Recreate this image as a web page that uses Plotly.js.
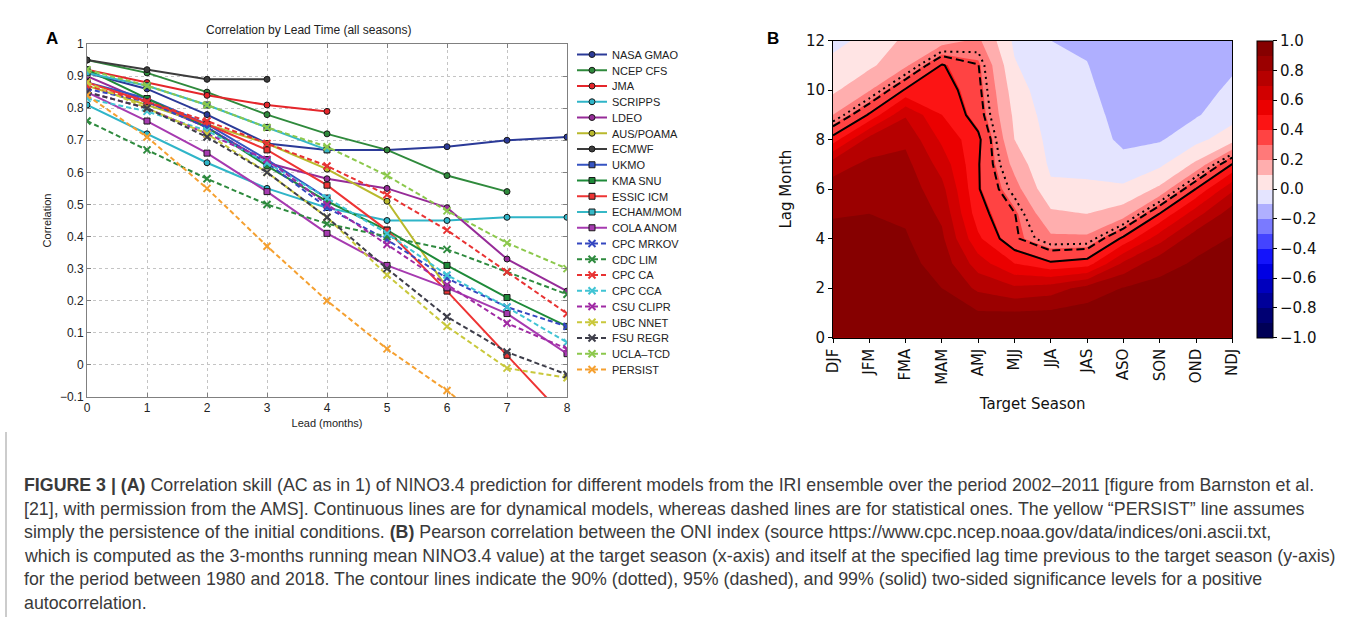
<!DOCTYPE html>
<html><head><meta charset="utf-8">
<script src="https://cdn.plot.ly/plotly-3.0.1.min.js"></script>
<style>html,body{margin:0;padding:0;background:#fff;}#chart{width:1355px;height:617px;}</style>
</head><body><div id="chart"></div>
<script>
// ---------- Panel A data ----------
const leads = [0, 1, 2, 3, 4, 5, 6, 7, 8];
const modelNames = ["NASA GMAO","NCEP CFS","JMA","SCRIPPS","LDEO","AUS/POAMA","ECMWF","UKMO","KMA SNU","ESSIC ICM","ECHAM/MOM","COLA ANOM","CPC MRKOV","CDC LIM","CPC CA","CPC CCA","CSU CLIPR","UBC NNET","FSU REGR","UCLA\u2013TCD","PERSIST"];
const nasaGmao = [0.91, 0.86, 0.78, 0.69, 0.67, 0.67, 0.68, 0.70, 0.71];
const ncepCfs  = [0.95, 0.91, 0.85, 0.78, 0.72, 0.67, 0.59, 0.54];
const jma      = [0.92, 0.88, 0.84, 0.81, 0.79];
const scripps  = [0.81, 0.72, 0.63, 0.55, 0.49, 0.45, 0.45, 0.46, 0.46];
const ldeo     = [0.90, 0.82, 0.74, 0.63, 0.58, 0.55, 0.49, 0.33, 0.23];
const ausPoama = [0.87, 0.81, 0.75, 0.69, 0.61, 0.51, 0.24];
const ecmwf    = [0.95, 0.92, 0.89, 0.89];
const ukmo     = [0.88, 0.83, 0.75, 0.64, 0.52];
const kmaSnu   = [0.92, 0.83, 0.74, 0.62, 0.51, 0.42, 0.31, 0.21, 0.12];
const essicIcm = [0.88, 0.82, 0.75, 0.67, 0.56, 0.42, 0.23, 0.03, -0.17];
const echamMom = [0.91, 0.87, 0.81, 0.74, 0.67];
const colaAnom = [0.85, 0.76, 0.66, 0.54, 0.41, 0.31, 0.24, 0.16, 0.035];
const cpcMrkov = [0.86, 0.82, 0.74, 0.63, 0.49, 0.39, 0.27, 0.18, 0.12];
const cdcLim   = [0.76, 0.67, 0.58, 0.50, 0.44, 0.40, 0.36, 0.29, 0.22];
const cpcCa    = [0.87, 0.82, 0.76, 0.69, 0.62, 0.53, 0.42, 0.29, 0.16];
const cpcCca   = [0.83, 0.79, 0.73, 0.63, 0.52, 0.41, 0.28, 0.18, 0.07];
const csuClipr = [0.85, 0.80, 0.72, 0.64, 0.50, 0.375, 0.25, 0.13, 0.05];
const ubcNnet  = [0.88, 0.80, 0.72, 0.60, 0.46, 0.28, 0.12, -0.01, -0.04];
const fsuRegr  = [0.85, 0.80, 0.71, 0.60, 0.46, 0.30, 0.15, 0.04, -0.03];
const uclaTcd  = [0.92, 0.87, 0.81, 0.74, 0.68, 0.59, 0.48, 0.38, 0.30];
const persist  = [0.84, 0.71, 0.55, 0.37, 0.20, 0.05, -0.08, -0.23];
const seriesValues = [nasaGmao,ncepCfs,jma,scripps,ldeo,ausPoama,ecmwf,ukmo,kmaSnu,essicIcm,echamMom,colaAnom,cpcMrkov,cdcLim,cpcCa,cpcCca,csuClipr,ubcNnet,fsuRegr,uclaTcd,persist];

// ---------- Panel B data ----------
const seasons = ["DJF","JFM","FMA","MAM","AMJ","MJJ","JJA","JAS","ASO","SON","OND","NDJ"];
const lagMonths = [0,1,2,3,4,5,6,7,8,9,10,11,12];
// correlation profile (lag 0..12) for each target season
const corrDJF = [1, 0.98, 0.96, 0.94, 0.92, 0.895, 0.84, 0.76, 0.45, 0.20, 0.08, 0.03, -0.03];
const corrJFM = [1, 0.98, 0.96, 0.94, 0.925, 0.90, 0.87, 0.82, 0.74, 0.42, 0.19, 0.08, 0.03];
const corrFMA = [1, 0.98, 0.95, 0.93, 0.91, 0.885, 0.86, 0.83, 0.78, 0.69, 0.42, 0.18, 0.12];
const corrMAM = [1, 0.96, 0.90, 0.86, 0.82, 0.78, 0.73, 0.66, 0.58, 0.50, 0.46, 0.415, 0.15];
const corrAMJ = [1, 0.91, 0.78, 0.65, 0.52, 0.446, 0.415, 0.415, 0.43, 0.36, 0.34, 0.32, 0.22];
const corrMJJ = [1, 0.91, 0.72, 0.50, 0.33, 0.32, 0.24, 0.17, 0.10, 0.08, 0.05, 0.01, -0.02];
const corrJJA = [1, 0.92, 0.75, 0.42, 0.22, 0.12, 0.02, -0.02, -0.03, -0.05, -0.07, -0.09, -0.10];
const corrJAS = [1, 0.94, 0.84, 0.45, 0.22, 0.10, 0.02, -0.03, -0.05, -0.07, -0.085, -0.098, -0.11];
const corrASO = [1, 0.95, 0.905, 0.72, 0.43, 0.15, 0.02, -0.07, -0.12, -0.13, -0.14, -0.14, -0.14];
const corrSON = [1, 0.96, 0.925, 0.87, 0.66, 0.412, 0.12, -0.02, -0.11, -0.14, -0.15, -0.15, -0.15];
const corrOND = [1, 0.97, 0.94, 0.91, 0.87, 0.66, 0.412, 0.12, -0.03, -0.11, -0.14, -0.15, -0.15];
const corrNDJ = [1, 0.98, 0.95, 0.93, 0.905, 0.86, 0.68, 0.412, 0.06, -0.04, -0.08, -0.115, -0.13];
const seasonProfiles = [corrDJF,corrJFM,corrFMA,corrMAM,corrAMJ,corrMJJ,corrJJA,corrJAS,corrASO,corrSON,corrOND,corrNDJ];
const nYears = 39;                       // 1980-2018
const tCritical = [1.687, 2.026, 2.715]; // two-sided 90%, 95%, 99%, df = 37
const colorbarTicks = [-1, -0.8, -0.6, -0.4, -0.2, 0, 0.2, 0.4, 0.6, 0.8, 1.0];

// ---------- styling ----------
const colors = ["#2b3a98","#2f8a3c","#e5262b","#2fb5c8","#962b98","#b9b92c","#3c3c3c","#3553c2","#1e8a39","#ee3434","#36b8c6","#a63ab0",
                "#3547c0","#2e8a3e","#e83232","#40c4d4","#a02aa4","#c9c83c","#3e3e4a","#8cc84c","#f5a030"];
const symbols = ["circle","circle","circle","circle","circle","circle","circle","square","square","square","square","square"];

const traces = [];
seriesValues.forEach((vals, i) => {
  const stat = i >= 12;
  traces.push({
    type: "scatter", mode: "lines+markers", name: modelNames[i],
    x: leads.slice(0, vals.length), y: vals, xaxis: "x", yaxis: "y",
    line: {color: colors[i], width: 2, dash: stat ? "5px,3px" : "solid"},
    marker: stat ? {symbol: "x-thin-open", size: 7, color: colors[i], line: {color: colors[i], width: 2}}
                 : {symbol: symbols[i], size: 6, color: colors[i], line: {color: "#1a1a1a", width: 1}},
    hoverinfo: "skip"
  });
});

// correlation grid z[lag][season]
const corrGrid = lagMonths.map((L, li) => seasonProfiles.map(p => p[li]));
const seasonIdx = seasons.map((s, i) => i);

function seismic(t) {
  const st = [[0,[0,0,0.3]],[0.25,[0,0,1]],[0.5,[1,1,1]],[0.75,[1,0,0]],[1,[0.5,0,0]]];
  t = Math.max(0, Math.min(1, t));
  for (let i = 0; i < st.length - 1; i++) {
    const a = st[i][0], b = st[i+1][0];
    if (t <= b) {
      const f = (t - a) / (b - a);
      const c = st[i][1].map((v, k) => Math.round(255 * (v + (st[i+1][1][k] - v) * f)));
      return "rgb(" + c.join(",") + ")";
    }
  }
}
const cStart = -1, cEnd = 1, cSize = 0.1;
const nBands = Math.round((cEnd - cStart) / cSize) + 1;
const colorscale = [];
for (let k = 0; k <= nBands; k++) {
  const v = cStart - cSize / 2 + k * cSize;
  colorscale.push([k / nBands, seismic((v + 1) / 2)]);
}

traces.push({
  type: "contour", x: seasonIdx, y: lagMonths, z: corrGrid, xaxis: "x2", yaxis: "y2",
  autocontour: false, contours: {start: cStart, end: cEnd, size: cSize, coloring: "fill", showlines: false},
  line: {width: 0, smoothing: 0}, colorscale: colorscale, zmin: -1, zmax: 1,
  showlegend: false, hoverinfo: "skip",
  colorbar: {x: 1256.7/1355, xanchor: "left", xpad: 0, y: 1 - 189.1/617, yanchor: "middle", ypad: 0,
             len: 297.2/617, lenmode: "fraction", thickness: 16, thicknessmode: "pixels",
             outlinecolor: "#000", outlinewidth: 1, tickvals: colorbarTicks, tickformat: ".1f",
             ticks: "outside", ticklen: 4, tickcolor: "#000", tickwidth: 1,
             tickfont: {family: "DejaVu Sans", size: 15, color: "#111"}}
});
const sigDash = ["2px,4px", "8px,4px", "solid"];
tCritical.forEach((t, i) => {
  const r = t / Math.sqrt(t * t + nYears - 2);
  traces.push({
    type: "contour", x: seasonIdx, y: lagMonths, z: corrGrid, xaxis: "x2", yaxis: "y2",
    autocontour: false, contours: {start: r, end: r, size: 0.1, coloring: "none", showlabels: false},
    line: {color: "#000", width: 2, dash: sigDash[i], smoothing: 0},
    showscale: false, showlegend: false, hoverinfo: "skip"
  });
});

const fA = {family: "Liberation Sans, Arial, sans-serif", size: 12, color: "#222"};
const fB = {family: "DejaVu Sans", size: 15, color: "#111"};
const W = 1355, H = 617;
const capFont = {family: "Liberation Sans, Arial, sans-serif", size: 17.8, color: "#3a3a3a"};
const captionLines = [
  "<b>FIGURE 3 | (A)</b> Correlation skill (AC as in 1) of NINO3.4 prediction for different models from the IRI ensemble over the period 2002\u20132011 [figure from Barnston et al.",
  "[21], with permission from the AMS]. Continuous lines are for dynamical models, whereas dashed lines are for statistical ones. The yellow \u201cPERSIST\u201d line assumes",
  "simply the persistence of the initial conditions. <b>(B)</b> Pearson correlation between the ONI index (source https://www.cpc.ncep.noaa.gov/data/indices/oni.ascii.txt,",
  "which is computed as the 3-months running mean NINO3.4 value) at the target season (x-axis) and itself at the specified lag time previous to the target season (y-axis)",
  "for the period between 1980 and 2018. The contour lines indicate the 90% (dotted), 95% (dashed), and 99% (solid) two-sided significance levels for a positive",
  "autocorrelation."
];
const annotations = captionLines.map((t, i) => ({
  text: t, xref: "paper", yref: "paper", x: 22 / W, y: 1 - (485 + i * 23.5) / H,
  xanchor: "left", yanchor: "middle", showarrow: false, font: capFont
}));
annotations.push(
  {text: "<b>A</b>", xref: "paper", yref: "paper", x: 52/W, y: 1 - 38/H, xanchor: "center", yanchor: "middle", showarrow: false, font: {family: "Liberation Sans", size: 17, color: "#000"}},
  {text: "<b>B</b>", xref: "paper", yref: "paper", x: 773/W, y: 1 - 38/H, xanchor: "center", yanchor: "middle", showarrow: false, font: {family: "Liberation Sans", size: 17, color: "#000"}},
  {text: "Correlation by Lead Time (all seasons)", xref: "paper", yref: "paper", x: 308/W, y: 1 - 30/H, xanchor: "center", yanchor: "middle", showarrow: false, font: fA}
);

const layout = {
  width: W, height: H, autosize: false, margin: {l: 0, r: 0, t: 0, b: 0},
  paper_bgcolor: "#fff", plot_bgcolor: "rgba(0,0,0,0)", font: {family: "DejaVu Sans"},
  xaxis: {domain: [87/W, 567/W], range: [0, 8], tick0: 0, dtick: 1, showgrid: true, gridcolor: "#c4c4c4", griddash: "dot",
          zeroline: false, showline: true, linecolor: "#808080", linewidth: 1, mirror: "ticks", ticks: "inside", ticklen: 4, tickcolor: "#808080",
          tickfont: fA, title: {text: "Lead (months)", font: {family: fA.family, size: 11, color: "#222"}, standoff: 4}},
  yaxis: {domain: [1 - 397/H, 1 - 44/H], range: [-0.1, 1], tick0: 0, dtick: 0.1, showgrid: true, gridcolor: "#c4c4c4", griddash: "dot",
          zeroline: false, showline: true, linecolor: "#808080", linewidth: 1, mirror: "ticks", ticks: "inside", ticklen: 4, tickcolor: "#808080",
          tickfont: fA, title: {text: "Correlation", font: {family: fA.family, size: 11, color: "#222"}, standoff: 6}},
  xaxis2: {domain: [833/W, 1232.3/W], range: [0, 11], tickvals: seasonIdx, ticktext: seasons, tickangle: -90, showgrid: false, zeroline: false,
           showline: true, linecolor: "#000", linewidth: 1, mirror: true, ticks: "outside", ticklen: 4, tickcolor: "#000", tickfont: fB,
           title: {text: "Target Season", font: fB, standoff: 14}, anchor: "y2"},
  yaxis2: {domain: [1 - 337.7/H, 1 - 40.5/H], range: [0, 12], tick0: 0, dtick: 2, showgrid: false, zeroline: false,
           showline: true, linecolor: "#000", linewidth: 1, mirror: true, ticks: "outside", ticklen: 4, tickcolor: "#000", tickfont: fB,
           title: {text: "Lag Month", font: fB, standoff: 10}, anchor: "x2"},
  legend: {x: 572/W, y: 1 - 40/H, xanchor: "left", yanchor: "top", font: {family: fA.family, size: 11, color: "#222"},
           bgcolor: "rgba(0,0,0,0)", itemwidth: 30, tracegroupgap: 0},
  annotations: annotations,
  shapes: [
    {type: "line", xref: "paper", yref: "paper", x0: 6/W, x1: 6/W, y0: 0, y1: 1 - 432/H, line: {color: "#999", width: 1}}
  ]
};
const legendRowPitch = 15.75; // tighter legend rows, as in the original figure
Plotly.newPlot("chart", traces, layout, {staticPlot: true, displayModeBar: false}).then(gd => {
  const items = gd.querySelectorAll(".legend .traces");
  if (!items.length) return;
  const parse = el => {
    const m = /translate\(\s*([-\d.e]+)[ ,]+([-\d.e]+)\s*\)/.exec(el.getAttribute("transform") || "");
    return m ? [parseFloat(m[1]), parseFloat(m[2])] : null;
  };
  const first = parse(items[0]);
  if (!first) return;
  items.forEach((el, i) => {
    const p = parse(el);
    if (p) el.setAttribute("transform", "translate(" + p[0] + "," + (first[1] + i * legendRowPitch) + ")");
  });
});
</script></body></html>
